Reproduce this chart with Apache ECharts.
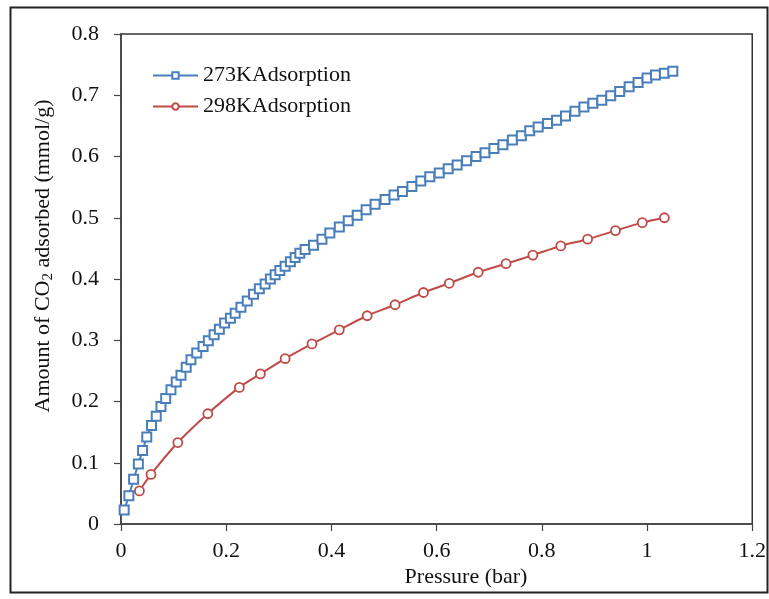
<!DOCTYPE html>
<html>
<head>
<meta charset="utf-8">
<script src="https://cdn.jsdelivr.net/npm/echarts@6/dist/echarts.min.js"></script>
<style>
html,body{margin:0;padding:0;background:#fff;}
#chart{width:769px;height:599px;}
</style>
</head>
<body>
<div id="chart"></div>
<script>
// 273K adsorption: pressure (bar), amount (mmol/g)
const p273 = [0.006,0.015,0.024,0.033,0.041,0.049,0.058,0.067,0.076,0.085,0.095,0.105,0.114,0.124,0.133,0.144,0.156,0.166,0.177,0.187,0.197,0.208,0.217,0.228,0.240,0.252,0.263,0.274,0.284,0.293,0.302,0.312,0.322,0.331,0.340,0.350,0.366,0.382,0.397,0.415,0.432,0.449,0.466,0.483,0.502,0.519,0.535,0.553,0.570,0.587,0.605,0.622,0.639,0.657,0.675,0.692,0.709,0.726,0.744,0.761,0.777,0.793,0.811,0.828,0.845,0.863,0.880,0.897,0.914,0.931,0.948,0.966,0.983,1.000,1.016,1.033,1.049];
const q273 = [0.023,0.046,0.073,0.098,0.120,0.142,0.161,0.176,0.192,0.205,0.219,0.232,0.243,0.256,0.268,0.279,0.290,0.299,0.309,0.318,0.328,0.336,0.344,0.354,0.364,0.375,0.384,0.392,0.400,0.407,0.414,0.421,0.428,0.435,0.442,0.448,0.455,0.465,0.475,0.485,0.495,0.504,0.513,0.522,0.530,0.537,0.543,0.551,0.560,0.567,0.573,0.580,0.586,0.593,0.600,0.606,0.613,0.619,0.627,0.634,0.642,0.648,0.654,0.659,0.666,0.674,0.681,0.687,0.692,0.699,0.706,0.714,0.721,0.728,0.733,0.736,0.739];
// 298K adsorption
const p298 = [0.035,0.057,0.108,0.165,0.225,0.265,0.312,0.363,0.415,0.468,0.521,0.575,0.624,0.679,0.732,0.783,0.836,0.887,0.940,0.991,1.033];
const q298 = [0.054,0.081,0.133,0.180,0.223,0.245,0.270,0.294,0.317,0.340,0.358,0.378,0.393,0.411,0.425,0.439,0.454,0.465,0.479,0.492,0.500];

const seriesNames = ['273KAdsorption','298KAdsorption'];
const xTicks = {min:0, max:1.2, interval:0.2};
const yTicks = {min:0, max:0.8, interval:0.1};
const xTitle = 'Pressure (bar)';

const FONT = 'Liberation Serif';
const chart = echarts.init(document.getElementById('chart'), null, {renderer:'canvas'});
const zip = (a,b) => a.map((v,i)=>[v,b[i]]);

chart.setOption({
  animation:false,
  backgroundColor:'#fff',
  grid:{left:121, top:34, right:16, bottom:75, show:true, borderColor:'#333', borderWidth:1.5, containLabel:false},
  legend:{
    left:147, top:59, orient:'vertical', itemWidth:45, itemHeight:8, itemGap:8,
    textStyle:{fontFamily:FONT, fontSize:22, color:'#111', lineHeight:23},
    data:seriesNames
  },
  xAxis:{
    type:'value', min:xTicks.min, max:xTicks.max, interval:xTicks.interval,
    axisLine:{show:true, lineStyle:{color:'#444', width:1.5}},
    axisTick:{show:true, inside:false, length:7, lineStyle:{color:'#444', width:1.2}},
    splitLine:{show:false},
    axisLabel:{fontFamily:FONT, fontSize:22, color:'#111', margin:16, formatter:v=>String(+v.toFixed(1))}
  },
  yAxis:{
    type:'value', min:yTicks.min, max:yTicks.max, interval:yTicks.interval,
    axisLine:{show:true, lineStyle:{color:'#444', width:1.5}},
    axisTick:{show:true, inside:false, length:7, lineStyle:{color:'#444', width:1.2}},
    splitLine:{show:false},
    axisLabel:{fontFamily:FONT, fontSize:22, color:'#111', margin:22, formatter:v=>String(+v.toFixed(1))}
  },
  graphic:[
    {type:'rect', left:8, top:5, shape:{width:757, height:585}, style:{fill:'none', stroke:'#222', lineWidth:2}, z:-1, silent:true},
    {type:'text', x:466, y:577, style:{text:xTitle, font:'22px "Liberation Serif"', fill:'#111', textAlign:'center', textVerticalAlign:'middle'}},
    {type:'text', x:43, y:256, rotation:Math.PI/2,
      style:{
        text:'{a|Amount of CO}{s|2}{a| adsorbed (mmol/g)}',
        textAlign:'center', textVerticalAlign:'middle',
        rich:{
          a:{fontFamily:FONT, fontSize:22, fill:'#111', color:'#111'},
          s:{fontFamily:FONT, fontSize:15, fill:'#111', color:'#111', verticalAlign:'bottom', padding:[10,0,0,0]}
        }
      }}
  ],
  series:[
    {
      name:seriesNames[0], type:'line', data:zip(p273,q273), smooth:0.3,
      symbol:'rect', symbolSize:9,
      lineStyle:{color:'#4A7EBB', width:2},
      itemStyle:{color:'#fff', borderColor:'#4A7EBB', borderWidth:2},
      z:3
    },
    {
      name:seriesNames[1], type:'line', data:zip(p298,q298), smooth:0.3,
      symbol:'circle', symbolSize:9,
      lineStyle:{color:'#BE4B48', width:2},
      itemStyle:{color:'#fff', borderColor:'#BE4B48', borderWidth:1.8},
      z:2
    }
  ]
});
</script>
</body>
</html>
